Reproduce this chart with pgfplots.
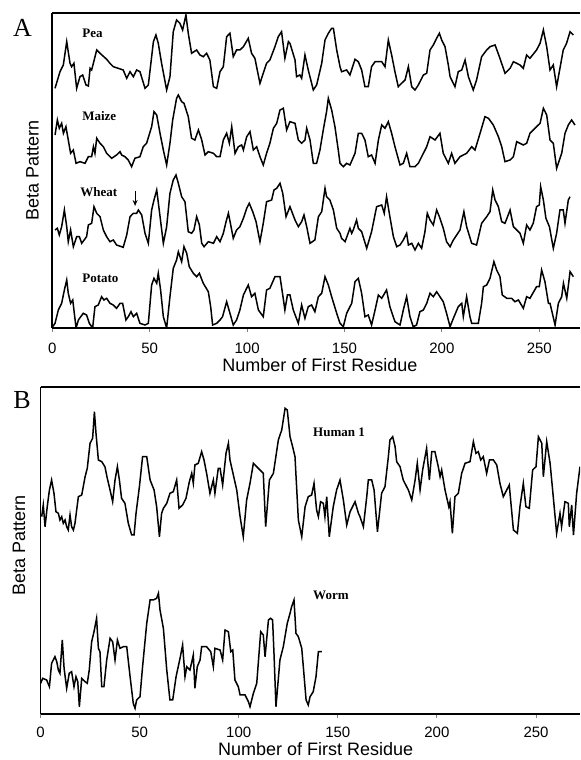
\documentclass[border=0pt]{standalone}
\usepackage{fontspec}
\setmainfont{Liberation Sans}
\newfontfamily\tms{Liberation Serif}
\usepackage{pgfplots}
\usepackage{pgfplotstable}
\pgfplotsset{compat=1.18}
\usetikzlibrary{arrows.meta}

% panel A: y is height above the bottom line (arbitrary units)
\pgfplotstableread{
x y
1.4 239.7
3.95 256.3
5.66 263
7.4 286.3
9.1 264.7
9.9 261.3
11.1 264.7
12.5 239.7
14.2 251.3
15.6 253
17.3 243
18.5 242
19.4 259.7
20.2 258
22.8 278
24.5 274.7
27.9 268.7
29.6 264.7
31.3 261.3
36.4 258
38.2 249.7
39.9 256.3
41.6 251.3
43.3 258
45.0 256.3
47.6 239.7
49.3 243
51.9 286.3
53.2 293
54.4 284.7
56.1 264.7
58.7 238
60.4 251.3
62.1 296.3
63.8 308
65.5 304.7
66.9 298
68.6 313
69.8 294.7
71.5 274.7
74.1 278
75.8 273
77.5 271.3
79.2 274.7
80.9 268
82.7 241.3
84.4 239.7
86.1 256.3
87.8 261.3
89.5 291.3
91.2 294.7
92.9 271.3
94.6 278
96.3 278
98.1 281.3
100.6 289.7
102.3 274.7
104.0 269.7
106.6 244.7
110.0 264.7
111.7 268
114.3 281.3
116.0 291.3
117.7 296.3
119.4 269.7
121.2 286.3
122.0 284.7
124.6 268
125.4 251.3
127.1 253
128.0 249.7
129.7 273
131.4 258
134.0 238
135.7 243
138.3 264.7
140.0 288
141.7 294.7
143.4 299.7
144.3 299.7
146.0 278
147.7 261.3
148.5 256.3
151.1 258
152.8 253
155.4 268.7
157.1 266.3
158.8 258
160.5 241.3
162.2 241.3
163.9 261.3
165.7 266.3
169.1 266.3
170.8 261.3
172.5 288
174.2 273
175.9 256.3
177.6 241.3
179.3 244.7
181.1 248
182.8 261.3
184.5 241.3
186.2 238
187.9 243
190.5 253
192.2 254.7
193.9 278
195.6 283
197.3 289.7
198.7 294.7
199.9 288
201.6 281.3
203.3 263
204.2 251.3
206.7 241.3
208.4 256.3
210.2 258
211.9 268
213.6 251.3
216.1 238
217.8 248
220.4 271.3
223.0 278
224.7 281.3
227.3 283
229.8 269.7
232.4 254.7
235.0 259.7
236.7 266.3
238.4 264.7
240.1 263
241.8 259.7
243.5 273
245.2 269.7
248.6 278
250.4 284.7
252.1 298
253.8 281.3
255.5 258
257.2 263
258.9 241.3
260.6 259.7
262.3 278
264.0 284.7
265.8 296.3
267.5 293
}\pea

\pgfplotstableread{
x y
1.4 193
2.6 208
3.6 199.7
4.8 204.7
5.7 194.7
7.0 201.3
8.2 188
9.4 174.7
10.8 178
12.2 164.7
14.2 166.3
16.8 164.7
18.5 171.3
20.2 171.3
21.1 181.3
21.9 174.7
22.8 189.7
24.5 184.7
26.2 181.3
27.9 174.7
30.5 169.7
33.0 173
34.8 176.3
35.6 173
37.3 171.3
39.0 168
40.7 161.3
42.4 169.7
45.0 171.3
46.7 181.3
48.4 184.7
51.0 201.3
52.2 216.3
53.6 213
55.3 194.7
57.0 178
58.7 163
60.4 184.7
61.8 208
63.8 229.7
64.7 233
66.4 226.3
67.6 224.7
69.8 211.3
71.5 189.7
73.2 188
75.0 198
76.7 188
78.4 173
80.1 176.3
82.7 174.7
84.4 171.3
86.1 171.3
87.8 188
89.5 194.7
90.9 184.7
92.1 201.3
93.8 174.7
95.5 181.3
97.2 183
98.1 178
99.8 191.3
101.5 196.3
103.2 178
104.9 181.3
106.6 171.3
108.3 163
110.0 174.7
111.7 184.7
113.5 199.7
115.2 204.7
116.9 218
118.6 219.7
120.3 198
122.0 206.3
124.6 204.7
126.3 188
128.0 184.7
129.7 188
130.6 199.7
132.3 188
134.0 164.7
135.7 164.7
137.4 178
139.1 198
140.8 216.3
141.7 229.7
143.4 218
145.1 201.3
146.8 178
147.7 164.7
149.4 161.3
151.1 164.7
152.8 163
155.4 174.7
157.1 194.7
158.8 194.7
160.5 188
162.2 171.3
163.9 173
165.7 164.7
167.4 188
169.1 203
170.8 199.7
172.5 206.3
174.2 194.7
175.9 181.3
178.5 163
180.2 164.7
181.9 174.7
183.6 161.3
186.2 161.3
187.9 164.7
190.5 174.7
192.2 181.3
193.9 191.3
196.5 188
199.0 194.7
200.7 174.7
203.3 164.7
205.0 174.7
206.7 164.7
209.3 171.3
212.7 174.7
215.3 181.3
217.0 178
219.6 194.7
222.1 211.3
223.9 209.7
226.4 203
229.0 191.3
230.7 181.3
232.4 166.3
235.0 168
236.7 171.3
238.4 186.3
240.1 184.7
241.8 183
243.5 184.7
245.2 194.7
248.6 201.3
250.4 204.7
252.1 219.7
253.8 213
255.5 188
257.2 184.7
258.9 159.7
261.5 174.7
263.2 194.7
264.9 203
266.6 208
268.3 203
}\maize

\pgfplotstableread{
x y
1.4 98
2.6 99.7
3.6 93
4.8 101.3
6.2 118
7.4 101.3
8.2 86.3
9.4 98
10.8 81.3
12.5 91.3
13.9 91.3
15.1 84.7
17.6 91.3
18.5 103
20.2 104.7
21.4 121.3
22.8 114.7
24.5 111.3
26.2 98
27.9 91.3
29.6 86.3
31.3 88
33.0 83
36.4 80.7
38.2 93
39.9 111.3
41.6 114.7
43.3 114.7
44.2 118
45.9 113
47.6 94.7
49.3 84.7
51.0 118
52.2 128
53.6 138
54.9 118
57.0 84.7
58.7 101.3
60.4 134.7
62.1 148
63.5 153
64.7 144.7
66.4 131.3
68.1 126.3
69.8 96.3
71.5 94.7
72.7 98
74.1 111.3
75.5 103
76.7 84.7
77.9 81.3
80.1 86.3
82.7 84.7
84.4 91.3
86.1 86.3
87.8 94.7
89.2 106.3
90.4 114.7
91.6 103
92.9 89.7
94.6 98
96.3 101.3
98.1 109.7
99.8 119.7
101.1 124.7
102.9 116.3
104.6 106.3
106.6 86.3
108.3 104.7
110.0 126.3
112.6 128
113.8 138
115.2 139.7
116.9 144.7
118.3 134.7
120.0 111.3
122.0 121.3
124.6 108
126.3 101.3
128.0 106.3
129.2 113
130.6 101.3
132.3 84.7
134.8 88
136.6 111.3
138.3 116.3
140.0 139.7
140.8 131.3
142.5 128
144.3 118
146.0 99.7
147.7 94.7
148.5 89.7
150.3 86.3
152.8 99.7
153.7 94.7
154.5 98
156.2 108
157.1 99.7
158.8 96.3
161.4 79.7
163.9 96.3
166.5 121.3
169.1 123
170.4 114.7
171.6 131.3
173.3 111.3
175.1 91.3
176.8 81.3
178.5 83
180.2 88
181.9 94.7
182.8 83
184.5 84.7
186.2 78
187.9 84.7
189.6 79.7
191.3 96.3
192.5 114.7
193.9 108
195.6 103
197.3 118
198.7 111.3
200.7 99.7
202.4 86.3
204.2 81.3
205.9 88
207.6 93
209.3 98
211.3 116.3
212.7 101.3
215.3 84.7
217.8 83
220.4 104.7
223.0 111.3
224.7 116.3
226.1 138
227.3 128
229.0 121.3
230.7 106.3
232.4 104.7
235.0 118
236.7 101.3
240.1 94.7
241.8 84.7
243.5 103
245.2 98
246.9 104.7
248.6 121.3
250.0 123
250.7 141.3
252.1 128
253.4 109.7
255.2 101.3
257.2 79.7
258.9 94.7
260.6 118
262.3 118
263.2 104.7
264.9 128
265.8 131.3
}\wheat

\pgfplotstableread{
x y
0.2 1.3
1.4 4.7
3.1 18
4.8 24.7
6.2 38
7.4 48
8.2 34.7
9.4 24.7
10.5 28
11.1 18
12.2 0
13.4 8
14.6 11.3
15.9 14.7
17.6 13
19.0 4.7
20.7 0
21.9 21.3
23.6 23
25.3 31.3
26.5 28
27.9 29.7
29.6 24.7
31.3 23
33.0 19.7
34.8 24.7
36.1 24.7
37.8 8
39.0 11.3
40.4 16.3
41.6 11.3
43.3 14.7
45.0 4.7
47.6 3
49.3 4.7
51.0 43
52.2 49.7
53.6 44.7
54.4 54.7
55.6 38
57.0 11.3
58.7 0
60.4 31.3
62.1 59.7
63.8 68
64.7 76.3
66.4 66.3
67.6 81.3
69.0 74.7
70.3 61.3
72.4 54.7
74.1 51.3
75.5 54.7
77.5 44.7
80.1 36.3
81.3 21.3
82.3 3
84.4 4.7
86.1 8
87.4 11.3
89.5 26.3
91.2 14.7
92.9 3
94.6 8
96.3 18
98.1 33
100.6 43
102.3 31.3
104.0 34.7
105.8 18
108.3 11.3
110.0 38
111.7 39.7
114.3 51.3
116.9 51.3
118.3 33
119.4 18
120.7 33
122.0 33
123.7 18
126.3 4.7
128.0 23
129.7 9.7
131.4 21.3
133.1 23
134.8 16.3
136.6 31.3
138.3 34.7
140.0 51.3
141.7 43
143.4 31.3
146.0 14.7
147.7 4.7
149.4 1.3
151.1 14.7
153.7 24.7
155.4 46.3
157.1 49.7
158.8 34.7
160.5 11.3
162.2 13
163.9 3
165.7 18
167.4 33
169.1 29.7
171.6 38
173.3 21.3
175.9 6.3
178.5 3
180.2 18
181.9 31.3
183.6 11.3
185.3 1.3
187.0 3
188.7 16.3
190.5 18
192.2 24.7
193.9 34.7
195.6 31.3
197.3 36.3
199.0 31.3
200.7 26.3
202.4 14.7
204.2 1.3
205.9 9.7
208.4 21.3
210.2 24.7
211.0 11.3
212.7 31.3
214.4 11.3
215.3 4.7
218.7 4.7
220.4 24.7
221.3 41.3
223.0 43
224.7 49.7
226.7 66.3
228.1 58
229.8 51.3
231.0 33
233.3 29.7
235.8 29.7
237.5 26.3
239.3 28
241.8 19.7
243.5 31.3
245.2 29.7
248.6 41.3
250.0 41.3
251.2 58
252.9 46.3
254.7 24.7
255.5 24.7
258.1 3
259.8 24.7
261.5 31.3
262.4 44.7
264.1 29.7
265.8 56.3
267.5 51.3
}\potato

% panel B
\pgfplotstableread{
x y
0.6 196.3
1.4 208
2.3 186.3
3.4 206.3
4.5 223
5.6 233
6.8 219.7
7.8 201.3
9.0 199.7
9.8 193
10.7 196.3
11.5 189.7
12.4 193
13.2 186.3
14.0 183
14.9 198
15.7 186.3
16.6 183
17.4 189.7
19.1 216.3
20.8 218
22.5 236.3
23.6 244.7
25.0 269.7
26.3 274.7
27.2 301.3
28.0 279.7
29.2 253
30.9 251.3
32.5 246.3
33.7 234.7
35.1 223
36.4 211.3
37.6 233
38.8 246.3
39.8 233
40.9 214.7
42.6 209.7
44.3 189.7
46.0 178
47.2 178
48.2 199.7
49.9 226.3
51.5 256.3
53.6 256.3
55.3 233
57.3 223
58.6 206.3
60.0 176.3
61.1 199.7
62.0 204.7
63.7 209.7
65.3 219.7
67.0 221.3
68.7 233
69.9 204.7
71.7 208
73.4 214.7
75.1 231.3
76.3 239.7
77.1 229.7
77.9 248
79.6 249.7
81.3 261.3
82.5 253
83.8 239.7
85.5 219.7
87.2 233
88.0 219.7
89.7 244.7
90.6 244.7
91.9 228
93.6 259.7
94.8 269.7
95.6 253
97.3 238
99.0 223
100.7 196.3
102.3 176.3
104.0 213
105.7 229.7
107.4 249.7
109.9 244.7
112.4 239.7
113.6 186.3
115.5 233
117.5 239.7
120.0 273
121.7 283
123.4 304.7
124.5 303
125.9 276.3
127.2 266.3
128.4 256.3
130.1 193
131.8 176.3
133.5 206.3
135.1 216.3
136.8 218
138.0 229.7
139.3 203
140.2 196.3
141.3 211.3
142.7 209.7
143.5 196.3
144.4 216.3
145.7 176.3
147.7 206.3
149.4 223
151.1 233
152.8 213
154.5 188
156.2 201.3
158.7 211.3
160.4 199.7
161.2 196.3
162.9 186.3
164.6 216.3
165.4 233
167.1 233
168.3 223
170.0 181.3
172.1 219.7
173.8 226.3
175.5 256.3
176.3 273
177.7 276.3
178.9 266.3
179.7 251.3
181.4 246.3
183.0 233
185.6 223
187.3 213
189.0 233
190.1 249.7
191.5 223
192.8 243
194.8 264.7
196.2 233
197.4 261.3
199.0 261.3
200.7 246.3
201.6 236.3
202.4 243
204.1 223
206.0 206.3
206.6 211.3
207.8 179.7
209.1 216.3
210.8 219.7
212.5 239.7
214.2 249.7
216.7 251.3
218.4 271.3
219.7 259.7
220.9 261.3
222.1 253
223.4 256.3
225.1 239.7
226.5 253
228.5 253
230.2 248
231.8 229.7
233.5 216.3
235.2 223
236.5 228
238.6 183
240.6 179.7
241.9 206.3
243.6 229.7
244.9 206.3
246.6 204.7
248.3 243
250.0 246.3
251.2 276.3
252.9 269.7
253.7 236.3
255.4 271.3
257.1 249.7
258.7 216.3
260.4 179.7
262.1 199.7
262.9 186.3
264.6 211.3
266.3 209.7
266.8 186.3
268.0 208
268.9 178
270.5 219.7
272.2 246.3
}\human

\pgfplotstableread{
x y
0.1 29.7
1.1 34.7
3.1 33
4.5 26.3
5.6 49.7
7.3 56.3
8.2 51.3
9.0 43
9.8 39.7
11.0 73
11.9 44.7
13.2 24.7
14.5 39.7
15.7 41.3
16.9 26.3
17.9 36.3
18.8 31.3
19.6 6.3
20.8 34.7
22.5 31.3
23.6 29.7
24.6 43
25.8 71.3
27.0 81.3
28.3 94.7
29.2 64.7
30.0 61.3
30.9 26.3
32.0 26.3
33.4 53
35.1 74.7
36.4 71.3
37.6 53
38.8 73
40.1 64.7
41.8 66.3
43.5 66.3
45.2 36.3
46.8 9.7
47.7 4.7
48.5 13
50.2 16.3
51.5 46.3
53.6 89.7
55.3 113
56.9 113
58.6 114.7
59.5 119.7
60.3 103
62.0 84.7
63.7 43
65.3 13
66.7 13
68.4 36.3
70.4 54.7
71.7 68
72.9 36.3
73.8 46.3
75.4 43
77.1 58
77.9 24.7
79.1 46.3
80.5 53
81.3 66.3
83.8 66.3
85.9 61.3
87.2 46.3
88.0 64.7
90.6 63
91.9 53
93.1 83
94.8 81.3
96.0 61.3
97.0 63
98.1 33
99.8 26.3
100.7 18
103.2 18
104.9 11.3
105.7 6.3
107.4 19.7
109.1 29.7
111.1 81.3
112.4 78
113.3 56.3
115.0 93
116.1 94.7
117.1 93
117.8 59.7
118.8 6.3
120.8 53
122.5 66.3
124.5 89.7
125.9 99.7
126.7 106.3
127.9 113
128.9 79.7
130.1 76.3
131.8 64.7
132.6 46.3
134.0 13
135.1 8
136.0 16.3
137.6 21.3
139.0 36.3
140.2 61.3
141.9 61.3
}\worm

\pgfplotsset{
  panel/.style={
    scale only axis,
    anchor=south west,
    axis x line=box,
    axis y line*=left,
    axis line style={line width=0.9pt},
    xtick={0,50,100,150,200,250},
    xtick pos=bottom,
    ytick=\empty,
    tick align=outside,
    major tick length=2pt,
    tick style={line width=0.5pt},
    ticklabel style={font=\fontsize{7.5}{9}\selectfont},
    /pgf/number format/assume math mode=true,
    label style={font=\fontsize{9}{11}\selectfont},
    cycle list={{black, line width=0.75pt}},
    every axis plot post/.append style={black, line width=0.75pt, mark=none},
    clip=true,
  },
}
\tikzset{tag/.style={anchor=west, inner sep=0pt, font=\tms\bfseries\fontsize{6.5}{8}\selectfont}}

\begin{document}
\begin{tikzpicture}
\path[use as bounding box] (0,0) rectangle (290pt,380pt);

\begin{axis}[panel,
  at={(26.15pt,216pt)},
  width=263.85pt, height=157.5pt,
  xmin=0, xmax=270.9, ymin=0, ymax=315,
  xticklabel style={anchor=base, yshift=-11pt},
  xlabel={Number of First Residue},
  xlabel style={at={(axis description cs:0.507,0)}, anchor=base, yshift=-22pt},
  ylabel={Beta Pattern},
  ylabel style={at={(axis description cs:-0.0375,0.50)}, anchor=center, rotate=0},
]
\addplot table {\pea};
\addplot table {\maize};
\addplot table {\wheat};
\addplot table {\potato};
\node[tag] at (axis cs:15.2,294.5) {Pea};
\node[tag] at (axis cs:15.2,212) {Maize};
\node[tag] at (axis cs:14.2,135.5) {Wheat};
\node[tag] at (axis cs:15.2,50) {Potato};
\draw[line width=0.5pt, -{Stealth[length=3pt,width=2.5pt]}] (axis cs:42.5,137) -- (axis cs:42.5,122);
\end{axis}

\begin{axis}[panel,
  at={(20.25pt,23pt)},
  width=269.75pt, height=163.65pt,
  xmin=0, xmax=272.2, ymin=-1, ymax=326.3,
  xticklabel style={anchor=base, yshift=-9.5pt},
  xlabel={Number of First Residue},
  xlabel style={at={(axis description cs:0.51,0)}, anchor=base, yshift=-20.5pt},
  ylabel={Beta Pattern},
  ylabel style={at={(axis description cs:-0.04,0.516)}, anchor=center, rotate=0},
]
\addplot table {\human};
\addplot table {\worm};
\node[tag] at (axis cs:137.4,281) {Human 1};
\node[tag] at (axis cs:137.4,118) {Worm};
\end{axis}

\node[font=\tms\fontsize{13}{14}\selectfont] at (11.25pt,366.25pt) {A};
\node[font=\tms\fontsize{13}{14}\selectfont] at (11pt,180pt) {B};
\end{tikzpicture}
\end{document}
